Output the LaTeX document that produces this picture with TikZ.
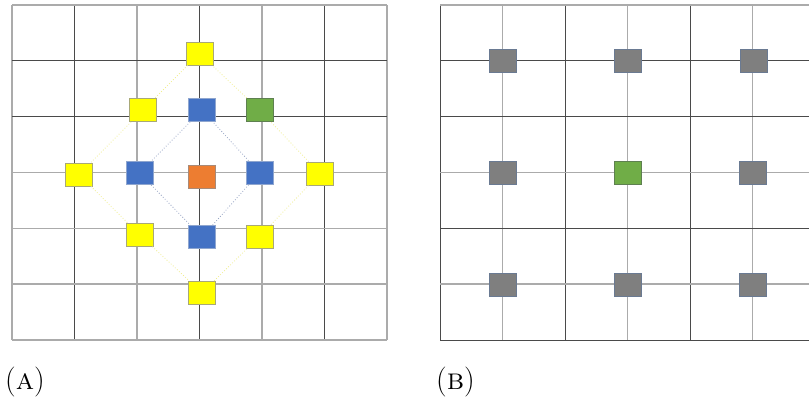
\documentclass[tikz,border=0pt]{standalone}
\usetikzlibrary{calc}
\definecolor{gdark}{HTML}{4A4A4A}
\definecolor{glight}{HTML}{ABABAB}
\definecolor{cyellow}{HTML}{FFFF00}
\definecolor{cyellowb}{HTML}{A8A878}
\definecolor{cblue}{HTML}{4472C4}
\definecolor{cblueb}{HTML}{8FA6CF}
\definecolor{cgreen}{HTML}{70AD47}
\definecolor{cgreenb}{HTML}{5E8050}
\definecolor{corange}{HTML}{ED7D31}
\definecolor{coranger}{HTML}{A88A78}
\definecolor{cgray}{HTML}{7F7F7F}
\definecolor{cgrayb}{HTML}{6A7A92}
\definecolor{lyellow}{HTML}{F0EE90}
\definecolor{lblue}{HTML}{96A4C4}
\tikzset{
  x=1pt, y=-1pt,
  griddark/.style={draw=gdark, line width=0.8pt},
  gridlight/.style={draw=glight, line width=1.6pt},
  cell/.style={rectangle, minimum width=27pt, minimum height=23pt, inner sep=0pt, line width=0.9pt},
  ycell/.style={cell, fill=cyellow, draw=cyellowb},
  bcell/.style={cell, fill=cblue, draw=cblueb},
  gcell/.style={cell, fill=cgreen, draw=cgreenb},
  ocell/.style={cell, fill=corange, draw=coranger},
  kcell/.style={cell, fill=cgray, draw=cgrayb},
  ylink/.style={draw=lyellow, line width=0.8pt, dotted},
  blink/.style={draw=lblue, line width=0.8pt, dotted},
  caption/.style={inner sep=0pt, anchor=base west, font=\fontsize{30}{32}\selectfont}
}
\begin{document}
\begin{tikzpicture}
\useasboundingbox (0,0) rectangle (809,400);
\fill[white] (0,0) rectangle (809,400);

% ---- panel A: grid ----
\foreach \x in {12,137,262,387} \draw[gridlight] (\x,5) -- (\x,340);
\foreach \x in {74.5,199.5,324.5} \draw[griddark] (\x,5) -- (\x,340);
\foreach \y in {5,172.5,228.3,284.2,340} \draw[gridlight] (12,\y) -- (387,\y);
\foreach \y in {60.8,116.7} \draw[griddark] (12,\y) -- (387,\y);

% ---- panel B: grid (runs off the right side) ----
\foreach \x in {502.5,627.5,752.5} \draw[gridlight] (\x,5) -- (\x,340);
\foreach \x in {440,565,690} \draw[griddark] (\x,5) -- (\x,340);
\foreach \y in {5,172.5,284.2} \draw[gridlight] (440,\y) -- (809,\y);
\foreach \y in {60.8,116.7,228.3,340} \draw[griddark] (440,\y) -- (809,\y);

% ---- panel A: cells ----
\node[ycell] (yT)  at (199.5,53.5) {};
\node[ycell] (yUL) at (143,110) {};
\node[bcell] (bT)  at (202,110) {};
\node[gcell] (gUR) at (259.5,110) {};
\node[ycell] (yL)  at (79,174.5) {};
\node[bcell] (bL)  at (139.5,173) {};
\node[ocell] (oC)  at (202,176.5) {};
\node[bcell] (bR)  at (259.5,172.6) {};
\node[ycell] (yR)  at (320,173.5) {};
\node[ycell] (yLL) at (139.5,234.7) {};
\node[bcell] (bB)  at (202,237) {};
\node[ycell] (yLR) at (259.5,236.5) {};
\node[ycell] (yB)  at (202,292.7) {};

% outer ring through the yellow cells and the green one
\draw[ylink] (yT) -- (yUL);
\draw[ylink] (yUL) -- (yL);
\draw[ylink] (yL) -- (yLL);
\draw[ylink] (yLL) -- (yB);
\draw[ylink] (yB) -- (yLR);
\draw[ylink] (yLR) -- (yR);
\draw[ylink] (yR) -- (gUR);
\draw[ylink] (gUR) -- (yT);
% inner ring through the blue cells
\draw[blink] (bT) -- (bL);
\draw[blink] (bL) -- (bB);
\draw[blink] (bB) -- (bR);
\draw[blink] (bR) -- (bT);

% ---- panel B: cells ----
\node[kcell] (k11) at (502.5,61) {};
\node[kcell] (k12) at (628,61) {};
\node[kcell] (k13) at (753.5,61) {};
\node[kcell] (k21) at (502.5,173) {};
\node[gcell] (k22) at (628,173) {};
\node[kcell] (k23) at (753,173) {};
\node[kcell] (k31) at (502.5,285) {};
\node[kcell] (k32) at (628,285) {};
\node[kcell] (k33) at (753,285) {};

% ---- captions ----
\node[caption] (capA) at (5,389) {(\textsc{a})};
\node[caption] (capB) at (436,389) {(\textsc{b})};
\end{tikzpicture}
\end{document}
